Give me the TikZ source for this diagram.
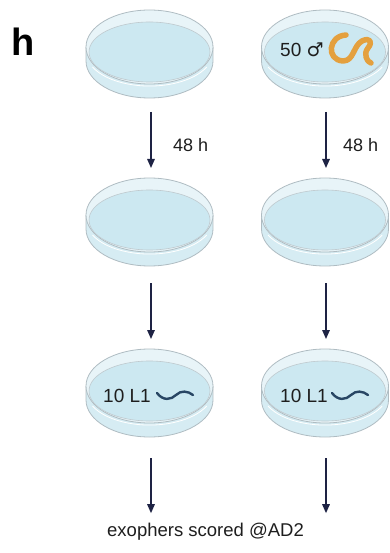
\documentclass[tikz,border=0pt]{standalone}
\usepackage{fontspec}
\usepackage{tikz}
\usepackage{xcolor}
\usetikzlibrary{arrows.meta}
\setmainfont{Liberation Sans}
\newfontfamily\symfont{DejaVu Sans}
\definecolor{Dish-Rim}{RGB}{175, 188, 194}
\definecolor{Dish-Lid}{RGB}{232, 244, 248}
\definecolor{Dish-Wall}{RGB}{214, 236, 243}
\definecolor{Dish-Agar}{RGB}{204, 232, 241}
\definecolor{Arrow-Navy}{RGB}{30, 35, 68}
\definecolor{Worm-Orange}{RGB}{228, 160, 62}
\definecolor{Larva-Blue}{RGB}{40, 70, 100}
\definecolor{Text-Grey}{RGB}{30, 30, 30}

\tikzset{
  pics/petri/.style={code={
    % side wall and bottom
    \fill[Dish-Wall] (0,-14) ellipse [x radius=63.5, y radius=37];
    \fill[Dish-Wall] (-63.5,0) rectangle (63.5,-14);
    \draw[Dish-Rim, line width=0.8pt] (-63.5,0) -- (-63.5,-14)
      arc[start angle=180, end angle=360, x radius=63.5, y radius=37] -- (63.5,0);
    % lid and agar
    \filldraw[fill=Dish-Lid, draw=Dish-Rim, line width=0.8pt] (0,0) ellipse [x radius=63.5, y radius=37];
    \filldraw[fill=Dish-Agar, draw=Dish-Rim!80, line width=0.6pt] (0,-5) ellipse [x radius=60.5, y radius=30];
    \draw[white, line width=0.8pt] (-57,-20) arc[start angle=205, end angle=335, x radius=63, y radius=33];
  }},
  dishspot/.style={minimum width=127pt, minimum height=88pt, inner sep=0pt, outer sep=0pt},
  flow/.style={-{Triangle[length=9pt, width=7.5pt]}, Arrow-Navy, line width=1.5pt},
  lbl/.style={text=Text-Grey, inner sep=0pt, font=\fontsize{18}{20}\selectfont}
}

\begin{document}
\begin{tikzpicture}[x=1pt, y=1pt]

    \useasboundingbox (0,0) rectangle (389,-553);

    \node[inner sep=0pt, font=\fontsize{38}{40}\selectfont\bfseries] (panel) at (23,-42) {h};

    % plates, left and right column
    \foreach \col/\x in {l/149.5, r/325} {
      \foreach \row/\y in {1/10, 2/178, 3/349} {
        \pic at (\x,-\y-37) {petri};
        \node[dishspot, anchor=north] (\col\row) at (\x,-\y) {};
      }
    }

    \node[lbl, font=\fontsize{19}{21}\selectfont, anchor=west] (males) at (280,-50) {50 {\symfont ♂}};
    \draw[Worm-Orange, line width=5.5pt, line cap=round, line join=round]
      (346,-35) .. controls (328,-36) and (326,-60) .. (343,-61)
      .. controls (354,-61) and (353,-46) .. (362,-41)
      .. controls (370,-37) and (373,-42) .. (368,-48)
      .. controls (363,-54) and (367,-62) .. (371,-63);

    \node[lbl, font=\fontsize{19}{21}\selectfont, anchor=west] (larvaeL) at (103,-396) {10 L1};
    \node[lbl, font=\fontsize{19}{21}\selectfont, anchor=west] (larvaeR) at (280,-396) {10 L1};
    \draw[Larva-Blue, line width=2.4pt, line cap=round]
      (157,-393) .. controls (163,-401) and (171,-400) .. (176,-395)
      .. controls (181,-390) and (188,-391) .. (193,-395);
    \draw[Larva-Blue, line width=2.4pt, line cap=round]
      (332,-393) .. controls (338,-401) and (346,-400) .. (351,-395)
      .. controls (356,-390) and (363,-391) .. (368,-395);

    \node[lbl, font=\fontsize{18.5}{20}\selectfont, anchor=west] (result) at (107,-532) {exophers scored @AD2};

    % transfers
    \draw[flow, shorten <=14pt, shorten >=10pt] ([xshift=1.5pt]l1.south) -- ([xshift=1.5pt]l2.north);
    \draw[flow, shorten <=14pt, shorten >=10pt] ([xshift=1pt]r1.south) -- ([xshift=1pt]r2.north);
    \draw[flow, shorten <=17pt, shorten >=10pt] ([xshift=1.5pt]l2.south) -- ([xshift=1.5pt]l3.north);
    \draw[flow, shorten <=17pt, shorten >=10pt] ([xshift=1pt]r2.south) -- ([xshift=1pt]r3.north);
    \draw[flow, shorten <=21pt, shorten >=10pt] ([xshift=1.5pt]l3.south) -- ([xshift=1.5pt]l3.south |- result.north);
    \draw[flow, shorten <=21pt, shorten >=10pt] ([xshift=1pt]r3.south) -- ([xshift=1pt]r3.south |- result.north);

    \node[lbl, anchor=west] (waitL) at (173,-145) {48 h};
    \node[lbl, anchor=west] (waitR) at (343,-145) {48 h};

\end{tikzpicture}
\end{document}
